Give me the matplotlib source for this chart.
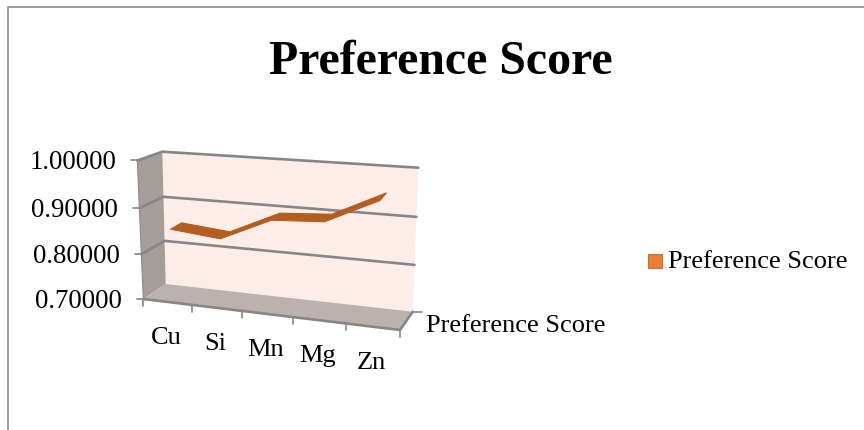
import numpy as np
import matplotlib
matplotlib.use("Agg")
import matplotlib.pyplot as plt
from matplotlib.patches import Polygon, Rectangle

plt.rcParams["font.family"] = ["Liberation Serif", "DejaVu Serif"]

# data
categories = ["Cu", "Si", "Mn", "Mg", "Zn"]
scores = [0.853, 0.843, 0.893, 0.900, 0.953]
series_name = "Preference Score"
tick_values = [0.7, 0.8, 0.9, 1.0]
y_min, y_max = 0.7, 1.0

# box corners in pixels: bottom-left, bottom-right, top-right, top-left
FRONT = [(143.3, 299.0), (400.0, 330.0), (406.0, 183.0), (137.3, 160.5)]
BACK = [(165.7, 284.0), (412.7, 311.7), (418.3, 167.7), (162.3, 151.7)]

GRID = "#868686"
WALL = "#FCEDE8"
SIDE = "#A59D9A"
FLOOR = "#BDB1AF"
RIBBON = "#B55C1F"


def homography(quad):
    """Unit square -> quad."""
    src = [(0, 0), (1, 0), (1, 1), (0, 1)]
    a, b = [], []
    for (u, v), (x, y) in zip(src, quad):
        a.append([u, v, 1, 0, 0, 0, -u * x, -v * x])
        a.append([0, 0, 0, u, v, 1, -u * y, -v * y])
        b += [x, y]
    return np.append(np.linalg.solve(np.array(a), np.array(b)), 1).reshape(3, 3)


H_FRONT = homography(FRONT)
H_BACK = homography(BACK)


def project(u, value, depth=0.0):
    """u across the categories (0-1), value on the y axis, depth 0 front, 1 back."""
    v = (value - y_min) / (y_max - y_min)
    p = np.array([u, v, 1.0])
    f = H_FRONT @ p
    b = H_BACK @ p
    return (1 - depth) * f[:2] / f[2] + depth * b[:2] / b[2]


def edge(ax, points, color=GRID, lw=1.9, z=3):
    xs, ys = zip(*points)
    ax.plot(xs, ys, color=color, lw=lw, solid_capstyle="round", zorder=z)


fig = plt.figure(figsize=(8.64, 4.30), dpi=100)
ax = fig.add_axes([0, 0, 1, 1])
ax.set_xlim(0, 864)
ax.set_ylim(430, 0)
ax.axis("off")

# outer frame (top and left only)
ax.plot([7.5, 7.5, 864], [430, 6.5, 6.5], color="#8C8C8C", lw=1.2, zorder=1)

# walls and floor
ax.add_patch(Polygon(BACK, fc=WALL, ec="none", zorder=2))
ax.add_patch(Polygon([FRONT[0], BACK[0], BACK[3], FRONT[3]], fc=SIDE, ec="none", zorder=2))
ax.add_patch(Polygon([FRONT[0], FRONT[1], BACK[1], BACK[0]], fc=FLOOR, ec="none", zorder=2))

# gridlines on the back wall, carried along the side wall
for val in tick_values[1:]:
    edge(ax, [project(0, val, 0), project(0, val, 1), project(1, val, 1)])
    x, y = project(0, val, 0)
    edge(ax, [(x - 6, y), (x, y)], lw=1.2)

# floor outline and ticks
edge(ax, [project(0, y_min, 0), project(1, y_min, 0), project(1, y_min, 1)])
x, y = project(0, y_min, 0)
edge(ax, [(x - 6, y), (x, y)], lw=1.2)
x, y = project(1, y_min, 1)
edge(ax, [(x, y), (x + 9, y)], lw=1.2)
ax.plot(*zip(project(0, y_min, 0), project(0, y_max, 0)), color="#8F8A88", lw=0.8, zorder=3)
for i in range(len(categories) + 1):
    x, y = project(i / len(categories), y_min, 0)
    edge(ax, [(x, y), (x, y + 7)], lw=1.2)

# the line is a flat ribbon lying between two depths
us = [(i + 0.5) / len(categories) for i in range(len(categories))]
front_edge = [project(u, s, 0.25) for u, s in zip(us, scores)]
back_edge = [project(u, s, 0.75) for u, s in zip(us, scores)]
ax.add_patch(Polygon(front_edge + back_edge[::-1], fc=RIBBON, ec=RIBBON, lw=0.8, zorder=4))

# axis labels
for val in tick_values:
    x, y = project(0, val, 0)
    ax.text(x - 21, y + 2, f"{val:.5f}", ha="right", va="center", fontsize=19.3, color="black")
for u, name in zip(us, categories):
    x, y = project(u, y_min, 0)
    ax.text(x - 1.5, y + 36, name, ha="center", va="center", fontsize=19, color="black")
ax.text(426, 326, series_name, ha="left", va="center", fontsize=19, color="black")

ax.text(441, 61.5, series_name, ha="center", va="center", fontsize=34.4,
        fontweight="bold", color="black")

# legend
ax.add_patch(Rectangle((648, 253.5), 14, 14, fc="#ED7D31", ec="#C8713A", lw=0.8, zorder=3))
ax.text(668, 262.5, series_name, ha="left", va="center", fontsize=19, color="black")

fig.savefig("out.png", dpi=100)
plt.close("all")
